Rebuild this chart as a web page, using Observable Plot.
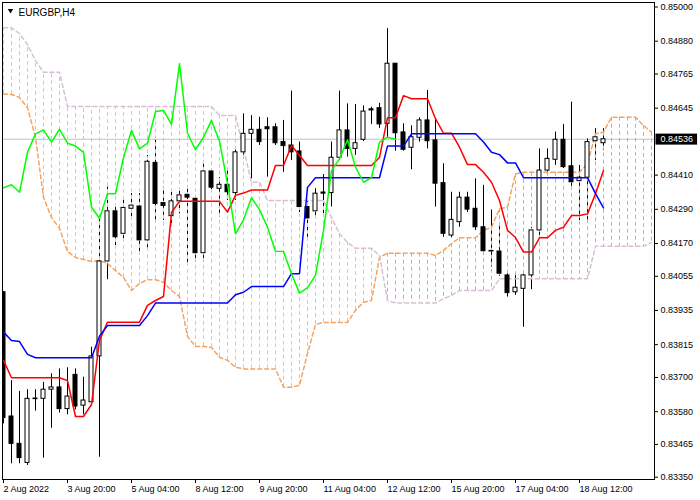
<!DOCTYPE html>
<html>
<head>
<meta charset="utf-8">
<script src="https://cdn.jsdelivr.net/npm/d3@7"></script>
<script src="https://cdn.jsdelivr.net/npm/@observablehq/plot@0.6"></script>
<style>
  html, body { margin: 0; padding: 0; background: #ffffff; }
  #chart { width: 700px; height: 500px; }
</style>
</head>
<body>
<div id="chart"></div>
<script>
// ---- Data (EURGBP, H4) ----
const symbolTitle = "EURGBP,H4";
const lastPrice = 0.84536;

const xTicks = [0, 8, 16, 24, 32, 40, 48, 56, 64, 72];
const xLabels = ["2 Aug 2022", "3 Aug 20:00", "5 Aug 04:00", "8 Aug 12:00", "9 Aug 20:00",
  "11 Aug 04:00", "12 Aug 12:00", "15 Aug 20:00", "17 Aug 04:00", "18 Aug 12:00"];
const yTicks = [0.85000, 0.84880, 0.84765, 0.84645, 0.84410, 0.84290, 0.84170, 0.84055,
  0.83935, 0.83815, 0.83700, 0.83580, 0.83465, 0.83350];

const open = [0.83999,0.83563,0.83467,0.83400,0.83624,0.83625,0.83657,0.83665,0.83589,0.83709,
  0.83601,0.83613,0.83774,0.84107,0.84283,0.84204,0.84292,0.84300,0.84181,0.84453,
  0.84312,0.84266,0.84318,0.84341,0.84327,0.84136,0.84423,0.84362,0.84376,0.84347,
  0.84490,0.84555,0.84569,0.84578,0.84578,0.84526,0.84514,0.84493,0.84298,0.84283,
  0.84349,0.84347,0.84471,0.84567,0.84502,0.84534,0.84641,0.84645,0.84590,0.84801,
  0.84560,0.84506,0.84541,0.84602,0.84532,0.84382,0.84198,0.84245,0.84331,0.84292,
  0.84227,0.84144,0.84142,0.84058,0.83999,0.84011,0.84058,0.84216,0.84426,0.84464,
  0.84534,0.84441,0.84389,0.84401,0.84529,0.84522];
const high = [0.84002,0.83689,0.83651,0.83657,0.83657,0.83683,0.83713,0.83730,0.83734,0.83730,
  0.83701,0.83806,0.84258,0.84368,0.84296,0.84324,0.84345,0.84345,0.84479,0.84532,
  0.84368,0.84362,0.84362,0.84362,0.84335,0.84450,0.84432,0.84402,0.84432,0.84508,
  0.84625,0.84619,0.84613,0.84611,0.84590,0.84602,0.84705,0.84526,0.84321,0.84362,
  0.84412,0.84526,0.84705,0.84660,0.84658,0.84653,0.84648,0.84662,0.84924,0.84802,
  0.84590,0.84583,0.84611,0.84707,0.84608,0.84450,0.84350,0.84350,0.84350,0.84397,
  0.84374,0.84288,0.84233,0.84070,0.84058,0.84075,0.84227,0.84502,0.84502,0.84561,
  0.84588,0.84666,0.84444,0.84537,0.84573,0.84573];
const low = [0.83537,0.83397,0.83397,0.83391,0.83582,0.83417,0.83522,0.83575,0.83569,0.83586,
  0.83569,0.83611,0.83420,0.84043,0.84163,0.84187,0.84257,0.84135,0.84146,0.84251,
  0.84251,0.84230,0.84274,0.84100,0.84105,0.84105,0.84350,0.84262,0.84321,0.84321,
  0.84467,0.84397,0.84514,0.84403,0.84514,0.84420,0.84461,0.84279,0.84192,0.84262,
  0.84262,0.84298,0.84461,0.84473,0.84479,0.84528,0.84588,0.84574,0.84539,0.84494,
  0.84494,0.84429,0.84526,0.84502,0.84298,0.84192,0.84190,0.84227,0.84279,0.84216,
  0.84128,0.84087,0.84054,0.83982,0.83988,0.83876,0.84008,0.84198,0.84416,0.84444,
  0.84433,0.84362,0.84251,0.84251,0.84461,0.84496];
const close = [0.83558,0.83467,0.83417,0.83625,0.83626,0.83657,0.83665,0.83589,0.83633,0.83598,
  0.83619,0.83774,0.84107,0.84283,0.84192,0.84295,0.84303,0.84181,0.84457,0.84309,
  0.84302,0.84318,0.84339,0.84331,0.84136,0.84423,0.84366,0.84376,0.84350,0.84490,
  0.84555,0.84569,0.84526,0.84571,0.84522,0.84512,0.84490,0.84298,0.84258,0.84345,
  0.84345,0.84471,0.84567,0.84502,0.84522,0.84633,0.84637,0.84588,0.84801,0.84557,
  0.84499,0.84543,0.84602,0.84529,0.84380,0.84204,0.84253,0.84331,0.84289,0.84227,
  0.84143,0.84142,0.84064,0.83996,0.84015,0.84058,0.84216,0.84426,0.84467,0.84534,
  0.84438,0.84385,0.84401,0.84526,0.84543,0.84536];

// Ichimoku: Tenkan-sen (red), Kijun-sen (blue)
const tenkan = [0.83760,0.83699,0.83699,0.83699,0.83699,0.83699,0.83699,0.83699,0.83689,0.83563,
  0.83563,0.83605,0.83830,0.83894,0.83894,0.83894,0.83894,0.83894,0.83953,0.83970,
  0.83984,0.84279,0.84318,0.84318,0.84318,0.84318,0.84318,0.84318,0.84280,0.84339,
  0.84347,0.84358,0.84358,0.84358,0.84444,0.84444,0.84514,0.84479,0.84444,0.84444,
  0.84444,0.84444,0.84444,0.84444,0.84444,0.84444,0.84444,0.84472,0.84611,0.84611,
  0.84689,0.84678,0.84678,0.84678,0.84608,0.84557,0.84557,0.84508,0.84447,0.84447,
  0.84420,0.84385,0.84321,0.84216,0.84191,0.84140,0.84140,0.84190,0.84190,0.84216,
  0.84227,0.84268,0.84268,0.84274,0.84345,0.84426];
const kijun = [0.83859,0.83830,0.83826,0.83781,0.83769,0.83769,0.83769,0.83769,0.83769,0.83769,
  0.83769,0.83769,0.83845,0.83882,0.83882,0.83882,0.83882,0.83882,0.83917,0.83961,
  0.83961,0.83961,0.83961,0.83961,0.83961,0.83961,0.83961,0.83961,0.83961,0.83990,
  0.83999,0.84019,0.84019,0.84019,0.84019,0.84019,0.84064,0.84064,0.84367,0.84401,
  0.84401,0.84401,0.84401,0.84401,0.84401,0.84401,0.84401,0.84401,0.84512,0.84512,
  0.84512,0.84555,0.84555,0.84555,0.84555,0.84555,0.84555,0.84555,0.84555,0.84555,
  0.84526,0.84490,0.84482,0.84453,0.84453,0.84401,0.84401,0.84401,0.84401,0.84401,
  0.84401,0.84401,0.84401,0.84401,0.84345,0.84295];

// Senkou Span A (sandy brown) and Span B (thistle), shifted 26 bars ahead
const spanA = [0.84695,0.84693,0.84682,0.84647,0.84542,0.84332,0.84261,0.84223,0.84142,0.84121,
  0.84114,0.84107,0.84110,0.84100,0.84075,0.84051,0.84005,0.84030,0.84043,0.84043,
  0.84034,0.84005,0.83984,0.83844,0.83809,0.83809,0.83805,0.83771,0.83760,0.83736,
  0.83730,0.83730,0.83730,0.83730,0.83730,0.83666,0.83666,0.83672,0.83784,0.83886,
  0.83893,0.83893,0.83893,0.83893,0.83935,0.83964,0.83970,0.84122,0.84136,0.84136,
  0.84136,0.84136,0.84136,0.84136,0.84128,0.84146,0.84170,0.84190,0.84190,0.84190,
  0.84216,0.84227,0.84292,0.84298,0.84415,0.84420,0.84420,0.84420,0.84420,0.84420,
  0.84420,0.84420,0.84420,0.84450,0.84555,0.84561,0.84613,0.84613,0.84613,0.84613,
  0.84584,0.84561];
const spanB = [0.84927,0.84927,0.84907,0.84868,0.84812,0.84771,0.84771,0.84771,0.84651,0.84651,
  0.84651,0.84651,0.84651,0.84651,0.84651,0.84651,0.84651,0.84651,0.84651,0.84651,
  0.84651,0.84651,0.84651,0.84651,0.84651,0.84651,0.84651,0.84619,0.84619,0.84619,
  0.84503,0.84385,0.84385,0.84321,0.84321,0.84321,0.84321,0.84321,0.84321,0.84321,
  0.84321,0.84262,0.84204,0.84174,0.84153,0.84153,0.84153,0.84128,0.83970,0.83961,
  0.83961,0.83961,0.83961,0.83961,0.83961,0.83976,0.83988,0.84005,0.84005,0.84005,
  0.84005,0.84005,0.84046,0.84046,0.84046,0.84046,0.84046,0.84046,0.84046,0.84046,
  0.84046,0.84046,0.84046,0.84046,0.84160,0.84160,0.84160,0.84160,0.84160,0.84160,
  0.84160,0.84174];

// Chikou span is the close plotted 26 bars back
const chikouShift = 26;

// ---- Tables built from the arrays ----
const candles = open.map((o, i) => ({i, open: o, high: high[i], low: low[i], close: close[i]}));
const cloud = spanA.map((a, i) => ({i, a, b: spanB[i]}));
const tenkanData = tenkan.map((v, i) => ({i, v}));
const kijunData = kijun.map((v, i) => ({i, v}));
const chikouData = close.slice(chikouShift).map((v, i) => ({i, v}));

const SANDY = "#F4A460", THISTLE = "#D8BFD8";
const fmt5 = d3.format(".5f");

const chart = Plot.plot({
  width: 700,
  height: 500,
  marginLeft: 2,
  marginTop: 2,
  marginRight: 46,
  marginBottom: 21,
  style: {background: "#ffffff", fontFamily: "'Liberation Sans', Arial, sans-serif", fontSize: "9px", color: "black"},
  x: {type: "linear", domain: [-0.125, 81.375], axis: null, label: null},
  y: {type: "linear", domain: [0.833419, 0.850158], axis: null, label: null},
  color: {type: "identity"},
  marks: [
    Plot.ruleY([lastPrice], {stroke: "#c0c0c0"}),
    // wicks
    Plot.ruleX(candles, {x: "i", y1: "low", y2: "high", stroke: "black", clip: true}),
    // cloud hatching
    Plot.ruleX(cloud, {x: "i", y1: "a", y2: "b", stroke: d => d.a >= d.b ? SANDY : THISTLE, strokeDasharray: "4,3", clip: true}),
    Plot.line(cloud, {x: "i", y: "a", stroke: SANDY, strokeDasharray: "4,3", clip: true}),
    Plot.line(cloud, {x: "i", y: "b", stroke: THISTLE, strokeDasharray: "4,3", clip: true}),
    // candle bodies
    Plot.rect(candles, {
      x1: d => d.i - 0.25, x2: d => d.i + 0.25, y1: "open", y2: "close",
      fill: d => d.close >= d.open ? "white" : "black", stroke: "black", clip: true
    }),
    // lines
    Plot.line(tenkanData, {x: "i", y: "v", stroke: "#ff0000", clip: true}),
    Plot.line(kijunData, {x: "i", y: "v", stroke: "#0000ff", clip: true}),
    Plot.line(chikouData, {x: "i", y: "v", stroke: "#00ff00", clip: true}),
    // axes
    Plot.axisX({ticks: xTicks, tickFormat: d => xLabels[xTicks.indexOf(d)], anchor: "bottom", label: null,
      tickSize: 4, tickPadding: 2, textAnchor: "start", dx: 0, fontSize: 9, fill: "black"}),
    Plot.axisY({ticks: yTicks, tickFormat: fmt5, anchor: "right", label: null,
      tickSize: 3, tickPadding: 3, fontSize: 9, fill: "black"}),
    Plot.frame({stroke: "black"}),
    // title
    Plot.dot([symbolTitle], {frameAnchor: "top-left", dx: 8, dy: 8, symbol: "triangle", rotate: 180, r: 2, fill: "black", stroke: null}),
    Plot.text([symbolTitle], {frameAnchor: "top-left", dx: 16, dy: 6, text: d => d, textAnchor: "start", lineAnchor: "top", fontSize: 10, fill: "black"}),
    // last price label
    Plot.text([lastPrice], {y: d => d, frameAnchor: "right", dx: 6, text: d => fmt5(d), textAnchor: "start", fontSize: 9, fill: "white"})
  ]
});

document.getElementById("chart").appendChild(chart);

// black box behind the last-price label
for (const t of chart.querySelectorAll("text")) {
  if (t.textContent === fmt5(lastPrice) && t.getAttribute("fill") === "white" || (t.textContent === fmt5(lastPrice) && t.closest("g") && t.closest("g").getAttribute("fill") === "white")) {
    const b = t.getBBox();
    const r = document.createElementNS("http://www.w3.org/2000/svg", "rect");
    r.setAttribute("x", b.x - 5);
    r.setAttribute("y", b.y - 0.5);
    r.setAttribute("width", b.width + 9);
    r.setAttribute("height", b.height + 1);
    r.setAttribute("fill", "black");
    if (t.getAttribute("transform")) r.setAttribute("transform", t.getAttribute("transform"));
    t.parentNode.insertBefore(r, t);
  }
}
</script>
</body>
</html>
